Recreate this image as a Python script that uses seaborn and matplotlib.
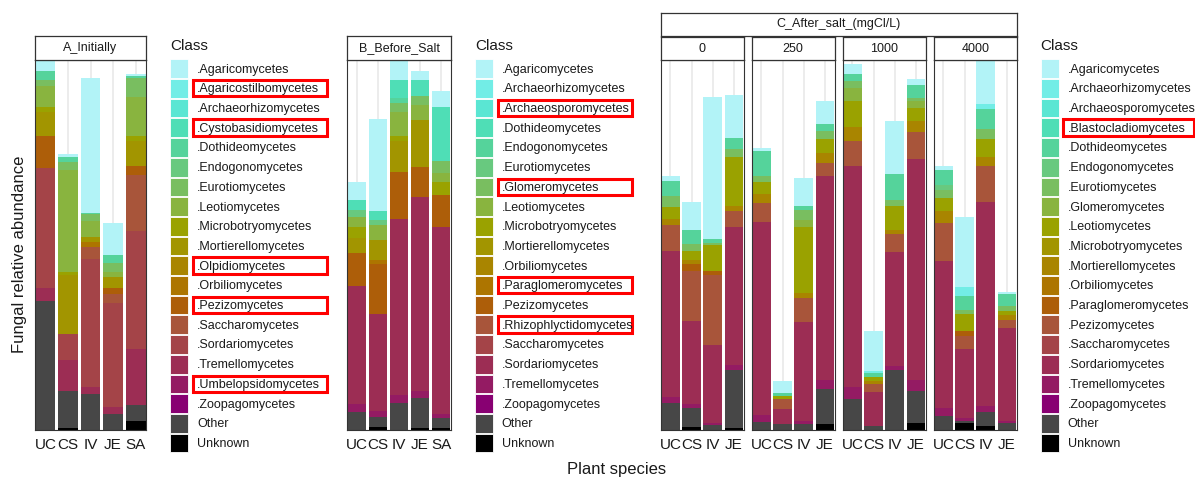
import matplotlib
matplotlib.use("Agg")
import matplotlib.pyplot as plt
from matplotlib.patches import Patch, Rectangle
import seaborn as sns
import pandas as pd

W, H = 1195, 478

# 20 fill colours, shared by position across the three legends
COLORS = ["#b2f3f7", "#72ede6", "#5ae6d3", "#4fdeb6", "#55d39b", "#68c97f",
          "#79be60", "#89b43f", "#9aa200", "#a29500", "#a98500", "#ad7500",
          "#ad5e09", "#a8553a", "#a44448", "#9c2d54", "#941b63", "#880072",
          "#474747", "#000000"]

SPECIES_AB = ["UC", "CS", "IV", "JE", "SA"]
SPECIES_C = ["UC", "CS", "IV", "JE"]
SALT_LEVELS = ["0", "250", "1000", "4000"]

A_CLASSES = [".Agaricomycetes", ".Agaricostilbomycetes", ".Archaeorhizomycetes",
             ".Cystobasidiomycetes", ".Dothideomycetes", ".Endogonomycetes",
             ".Eurotiomycetes", ".Leotiomycetes", ".Microbotryomycetes",
             ".Mortierellomycetes", ".Olpidiomycetes", ".Orbiliomycetes",
             ".Pezizomycetes", ".Saccharomycetes", ".Sordariomycetes",
             ".Tremellomycetes", ".Umbelopsidomycetes", ".Zoopagomycetes",
             "Other", "Unknown"]
B_CLASSES = [".Agaricomycetes", ".Archaeorhizomycetes", ".Archaeosporomycetes",
             ".Dothideomycetes", ".Endogonomycetes", ".Eurotiomycetes",
             ".Glomeromycetes", ".Leotiomycetes", ".Microbotryomycetes",
             ".Mortierellomycetes", ".Orbiliomycetes", ".Paraglomeromycetes",
             ".Pezizomycetes", ".Rhizophlyctidomycetes", ".Saccharomycetes",
             ".Sordariomycetes", ".Tremellomycetes", ".Zoopagomycetes",
             "Other", "Unknown"]
C_CLASSES = [".Agaricomycetes", ".Archaeorhizomycetes", ".Archaeosporomycetes",
             ".Blastocladiomycetes", ".Dothideomycetes", ".Endogonomycetes",
             ".Eurotiomycetes", ".Glomeromycetes", ".Leotiomycetes",
             ".Microbotryomycetes", ".Mortierellomycetes", ".Orbiliomycetes",
             ".Paraglomeromycetes", ".Pezizomycetes", ".Saccharomycetes",
             ".Sordariomycetes", ".Tremellomycetes", ".Zoopagomycetes",
             "Other", "Unknown"]

# classes highlighted with a red box in each legend
A_MARKED = [".Agaricostilbomycetes", ".Cystobasidiomycetes", ".Olpidiomycetes",
            ".Pezizomycetes", ".Umbelopsidomycetes"]
B_MARKED = [".Archaeosporomycetes", ".Glomeromycetes", ".Paraglomeromycetes",
            ".Rhizophlyctidomycetes"]
C_MARKED = [".Blastocladiomycetes"]

# relative abundance per class, one value per plant species (missing = 0)
A_VALUES = {
    ".Agaricomycetes":     [0.027, 0.007, 0.364, 0.089, 0.006],
    ".Dothideomycetes":    [0.024, 0.014, 0.005, 0.020, 0.005],
    ".Eurotiomycetes":     [0.016, 0.023, 0.017, 0.025, 0.050],
    ".Leotiomycetes":      [0.058, 0.275, 0.045, 0.014, 0.106],
    ".Microbotryomycetes": [0.012, 0.009, 0.000, 0.000, 0.014],
    ".Mortierellomycetes": [0.066, 0.158, 0.012, 0.030, 0.068],
    ".Orbiliomycetes":     [0.000, 0.000, 0.015, 0.000, 0.000],
    ".Pezizomycetes":      [0.086, 0.000, 0.000, 0.015, 0.023],
    ".Saccharomycetes":    [0.000, 0.000, 0.032, 0.024, 0.153],
    ".Sordariomycetes":    [0.325, 0.072, 0.347, 0.282, 0.319],
    ".Tremellomycetes":    [0.035, 0.084, 0.018, 0.018, 0.153],
    "Other":               [0.348, 0.098, 0.096, 0.043, 0.042],
    "Unknown":             [0.000, 0.005, 0.000, 0.000, 0.023],
}
B_VALUES = {
    ".Agaricomycetes":     [0.048, 0.249, 0.051, 0.024, 0.043],
    ".Dothideomycetes":    [0.027, 0.023, 0.050, 0.043, 0.147],
    ".Endogonomycetes":    [0.000, 0.000, 0.012, 0.000, 0.000],
    ".Eurotiomycetes":     [0.020, 0.015, 0.000, 0.000, 0.000],
    ".Glomeromycetes":     [0.000, 0.000, 0.024, 0.023, 0.033],
    ".Leotiomycetes":      [0.025, 0.041, 0.066, 0.042, 0.024],
    ".Microbotryomycetes": [0.032, 0.000, 0.014, 0.000, 0.034],
    ".Mortierellomycetes": [0.039, 0.052, 0.083, 0.126, 0.000],
    ".Paraglomeromycetes": [0.000, 0.011, 0.000, 0.000, 0.000],
    ".Pezizomycetes":      [0.090, 0.137, 0.126, 0.081, 0.086],
    ".Sordariomycetes":    [0.319, 0.263, 0.478, 0.525, 0.508],
    ".Tremellomycetes":    [0.021, 0.015, 0.020, 0.019, 0.011],
    "Other":               [0.048, 0.027, 0.073, 0.081, 0.027],
    "Unknown":             [0.000, 0.007, 0.000, 0.005, 0.003],
}
C0_VALUES = {
    ".Agaricomycetes":     [0.014, 0.074, 0.384, 0.117],
    ".Dothideomycetes":    [0.041, 0.039, 0.009, 0.030],
    ".Eurotiomycetes":     [0.029, 0.020, 0.008, 0.022],
    ".Leotiomycetes":      [0.032, 0.023, 0.070, 0.133],
    ".Mortierellomycetes": [0.018, 0.011, 0.000, 0.014],
    ".Paraglomeromycetes": [0.000, 0.019, 0.009, 0.000],
    ".Pezizomycetes":      [0.069, 0.135, 0.189, 0.043],
    ".Sordariomycetes":    [0.396, 0.224, 0.212, 0.373],
    ".Tremellomycetes":    [0.016, 0.012, 0.005, 0.014],
    "Other":               [0.072, 0.052, 0.013, 0.155],
    "Unknown":             [0.000, 0.006, 0.000, 0.005],
}
C250_VALUES = {
    ".Agaricomycetes":     [0.009, 0.033, 0.075, 0.063],
    ".Dothideomycetes":    [0.066, 0.006, 0.011, 0.018],
    ".Eurotiomycetes":     [0.018, 0.000, 0.027, 0.023],
    ".Glomeromycetes":     [0.000, 0.000, 0.021, 0.000],
    ".Leotiomycetes":      [0.032, 0.009, 0.177, 0.036],
    ".Mortierellomycetes": [0.024, 0.000, 0.014, 0.027],
    ".Pezizomycetes":      [0.052, 0.027, 0.066, 0.036],
    ".Sordariomycetes":    [0.523, 0.041, 0.268, 0.551],
    ".Tremellomycetes":    [0.018, 0.000, 0.006, 0.025],
    "Other":               [0.020, 0.015, 0.016, 0.095],
    "Unknown":             [0.000, 0.000, 0.000, 0.015],
}
C1000_VALUES = {
    ".Agaricomycetes":      [0.027, 0.108, 0.142, 0.016],
    ".Archaeorhizomycetes": [0.000, 0.006, 0.000, 0.000],
    ".Dothideomycetes":     [0.021, 0.012, 0.072, 0.036],
    ".Eurotiomycetes":      [0.018, 0.000, 0.014, 0.009],
    ".Glomeromycetes":      [0.036, 0.000, 0.000, 0.018],
    ".Leotiomycetes":       [0.069, 0.011, 0.065, 0.036],
    ".Mortierellomycetes":  [0.039, 0.006, 0.011, 0.030],
    ".Pezizomycetes":       [0.068, 0.023, 0.050, 0.071],
    ".Sordariomycetes":     [0.597, 0.092, 0.307, 0.599],
    ".Tremellomycetes":     [0.032, 0.000, 0.013, 0.030],
    "Other":                [0.083, 0.009, 0.160, 0.086],
    "Unknown":              [0.000, 0.000, 0.000, 0.018],
}
C4000_VALUES = {
    ".Agaricomycetes":      [0.011, 0.189, 0.117, 0.006],
    ".Archaeorhizomycetes": [0.000, 0.025, 0.013, 0.000],
    ".Dothideomycetes":     [0.041, 0.038, 0.054, 0.034],
    ".Endogonomycetes":     [0.015, 0.000, 0.000, 0.000],
    ".Eurotiomycetes":      [0.021, 0.012, 0.028, 0.011],
    ".Leotiomycetes":       [0.034, 0.045, 0.047, 0.012],
    ".Mortierellomycetes":  [0.033, 0.000, 0.024, 0.015],
    ".Paraglomeromycetes":  [0.000, 0.014, 0.000, 0.000],
    ".Pezizomycetes":       [0.102, 0.036, 0.097, 0.021],
    ".Sordariomycetes":     [0.400, 0.185, 0.554, 0.250],
    ".Tremellomycetes":     [0.021, 0.009, 0.015, 0.006],
    "Other":                [0.036, 0.005, 0.039, 0.018],
    "Unknown":              [0.000, 0.018, 0.009, 0.000],
}
C_VALUES = [C0_VALUES, C250_VALUES, C1000_VALUES, C4000_VALUES]

LINE = "#333333"


def fig_rect(x0, y0, x1, y1):
    # pixel box (top-left origin) -> figure fraction [l, b, w, h]
    return [x0 / W, 1 - y1 / H, (x1 - x0) / W, (y1 - y0) / H]


def draw_stack(ax, species, classes, values):
    df = pd.DataFrame({c: values.get(c, [0.0] * len(species)) for c in classes},
                      index=species)
    # cumulative sums from the bottom class up; draw tallest first
    cum = df[classes[::-1]].cumsum(axis=1)
    for i, c in enumerate(classes):
        sns.barplot(x=species, y=cum[c].values, order=species, color=COLORS[i],
                    saturation=1, width=0.88, linewidth=0, errorbar=None, ax=ax)
    ax.set_xlim(-0.46, len(species) - 0.54)
    ax.set_ylim(0, 1)
    ax.set_axisbelow(True)
    ax.xaxis.grid(True, color="#ebebeb", lw=1.3)
    ax.yaxis.grid(False)
    ax.set_yticks([0])
    ax.set_yticklabels([])
    ax.set_xlabel("")
    ax.set_ylabel("")
    ax.tick_params(axis="both", length=3, width=0.8, color=LINE,
                   labelsize=11, labelcolor="#1a1a1a", pad=3)
    for s in ax.spines.values():
        s.set_color(LINE)
        s.set_linewidth(0.8)


def make_strip(x0, y0, x1, y1, text):
    sax = fig.add_axes(fig_rect(x0, y0, x1, y1))
    sax.set_xticks([])
    sax.set_yticks([])
    sax.set_facecolor("white")
    for s in sax.spines.values():
        s.set_color(LINE)
        s.set_linewidth(0.9)
    sax.text(0.5, 0.5, text, ha="center", va="center", fontsize=9,
             color="#1a1a1a", transform=sax.transAxes)


def make_legend(classes, x, y, marked, box_left, box_right):
    fig.text(x / W, 1 - 50 / H, "Class", fontsize=11, ha="left",
             va="baseline", color="#1a1a1a")
    handles = [Patch(facecolor=COLORS[i], edgecolor="white", lw=0.6, label=c)
               for i, c in enumerate(classes)]
    leg = fig.legend(handles=handles, loc="upper left",
                     bbox_to_anchor=(x / W, 1 - y / H),
                     bbox_transform=fig.transFigure, frameon=False,
                     fontsize=9, handlelength=1.45, handleheight=1.925,
                     handletextpad=0.7, labelspacing=0.08, borderpad=0,
                     borderaxespad=0)
    for t in leg.get_texts():
        t.set_color("#1a1a1a")
    return leg, classes, marked, box_left, box_right


sns.set_style("white")
plt.rcParams["font.family"] = ["Liberation Sans", "DejaVu Sans"]

fig = plt.figure(figsize=(W / 100, H / 100), dpi=100)

TOP, BASE = 60, 429.5

# A: initially
axA = fig.add_axes(fig_rect(35, TOP, 146, BASE))
draw_stack(axA, SPECIES_AB, A_CLASSES, A_VALUES)
make_strip(35, 36, 146, TOP, "A_Initially")

# B: before salt
axB = fig.add_axes(fig_rect(347.3, TOP, 450.7, BASE))
draw_stack(axB, SPECIES_AB, B_CLASSES, B_VALUES)
make_strip(347.3, 36, 450.7, TOP, "B_Before_Salt")

# C: after salt, one facet per chloride level
C_LEFTS = [660.7, 751.7, 842.7, 933.7]
for left, level, vals in zip(C_LEFTS, SALT_LEVELS, C_VALUES):
    ax = fig.add_axes(fig_rect(left, TOP, left + 83, BASE))
    draw_stack(ax, SPECIES_C, C_CLASSES, vals)
    make_strip(left, 37.3, left + 83, TOP, level)
make_strip(660.7, 12.7, 1016.7, 36, "C_After_salt_(mgCl/L)")

legends = [
    make_legend(A_CLASSES, 170, 59.3, A_MARKED, 193, 327),
    make_legend(B_CLASSES, 475, 59.3, B_MARKED, 498, 632),
    make_legend(C_CLASSES, 1040.7, 59.3, C_MARKED, 1062.5, 1194),
]

fig.text(20 / W, 1 - 254 / H, "Fungal relative abundance", rotation=90,
         ha="center", va="center", fontsize=12, color="#1a1a1a")
fig.text(617 / W, 1 - 474 / H, "Plant species", ha="center", va="baseline",
         fontsize=12, color="#1a1a1a")

# red boxes around highlighted legend entries
fig.canvas.draw()
for leg, classes, marked, bl, br in legends:
    for patch, c in zip(leg.get_patches(), classes):
        if c not in marked:
            continue
        bb = patch.get_window_extent()
        y0 = bb.y0 + 1.5
        y1 = bb.y1 - 1
        fig.add_artist(Rectangle((bl / W, y0 / H), (br - bl) / W, (y1 - y0) / H,
                                 transform=fig.transFigure, fill=False,
                                 edgecolor="#ff0000", lw=2.2))

fig.savefig("out.png", dpi=100)
